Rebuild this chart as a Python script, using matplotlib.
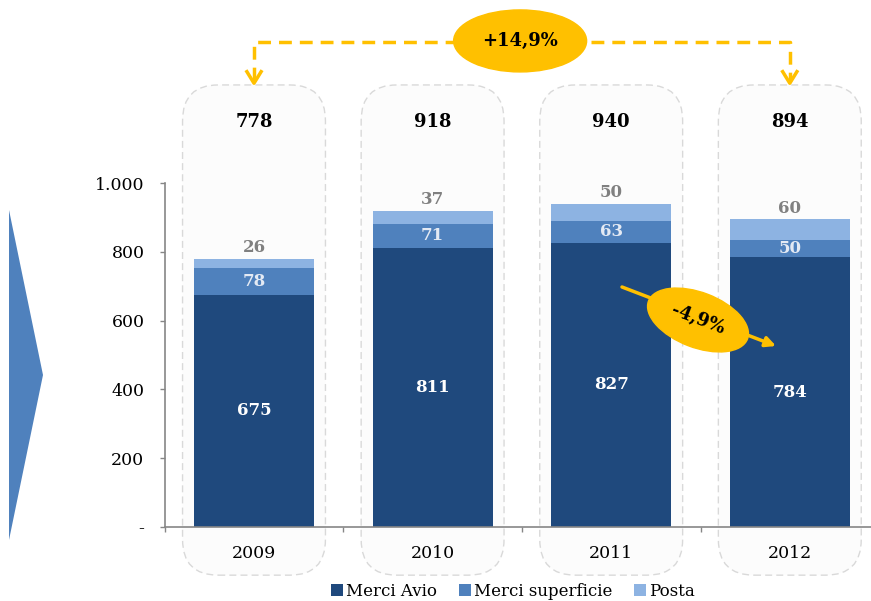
import numpy as np
import matplotlib
matplotlib.use('Agg')
import matplotlib.pyplot as plt
from matplotlib.patches import FancyBboxPatch, Ellipse, Polygon

plt.rcParams['font.family'] = ['DejaVu Serif']

# data
years = ['2009', '2010', '2011', '2012']
merci_avio = [675, 811, 827, 784]
merci_superficie = [78, 71, 63, 50]
posta = [26, 37, 50, 60]
totals = [778, 918, 940, 894]
growth_label = '+14,9%'
drop_label = '-4,9%'

c_avio = '#1f497d'
c_sup = '#4f81bd'
c_posta = '#8db3e2'
yellow = '#ffc000'
grey = '#868686'

W, H = 871, 601
fig = plt.figure(figsize=(W / 100, H / 100), dpi=100)
ax = fig.add_axes([0, 0, 1, 1])

# pixel scale of the chart: 178.6 px per category, 0.344 px per unit
x0_px, step_px = 254, 178.6
y0_px, yscale = 527, 0.344
ax.set_xlim(-x0_px / step_px, (W - x0_px) / step_px)
ax.set_ylim(-(H - y0_px) / yscale, y0_px / yscale)
ax.patch.set_alpha(0)

def px(x, y):
    # pixel (from top-left) -> inches for fig.dpi_scale_trans
    return (x / 100, (H - y) / 100)

inch = fig.dpi_scale_trans

x = np.arange(len(years))
bw = 120 / step_px

# rounded dashed panels behind each year
aspect = (1 / yscale) / (1 / step_px)
for i in x:
    box = FancyBboxPatch((i - 0.4, -140), 0.8, 1425,
                         boxstyle='round,pad=0,rounding_size=0.2',
                         mutation_aspect=aspect, facecolor='#fcfcfc',
                         edgecolor='#d9d9d9', linestyle=(0, (5, 3)), lw=1,
                         zorder=0)
    ax.add_patch(box)

b1 = ax.bar(x, merci_avio, bw, color=c_avio, zorder=2, label='Merci Avio')
bottom2 = np.array(merci_avio)
b2 = ax.bar(x, merci_superficie, bw, bottom=bottom2, color=c_sup, zorder=2,
            label='Merci superficie')
bottom3 = bottom2 + np.array(merci_superficie)
b3 = ax.bar(x, posta, bw, bottom=bottom3, color=c_posta, zorder=2, label='Posta')
tops = bottom3 + np.array(posta)

for i in x:
    ax.text(i, merci_avio[i] / 2, str(merci_avio[i]), ha='center', va='center',
            color='white', fontsize=12, fontweight='bold', zorder=3)
    ax.text(i, bottom2[i] + merci_superficie[i] / 2, str(merci_superficie[i]),
            ha='center', va='center', color='#e4eaf4', fontsize=12,
            fontweight='bold', zorder=3)
    ax.annotate(str(posta[i]), (i, tops[i]), xytext=(0, 8), textcoords='offset points',
                ha='center', va='center', color='#808080', fontsize=12,
                fontweight='bold', zorder=3)
    ax.text(i, 1177, str(totals[i]), ha='center', va='center', color='black',
            fontsize=13, fontweight='bold', zorder=3)

# axes styling
for s in ['top', 'right']:
    ax.spines[s].set_visible(False)
ax.spines['left'].set_position(('data', -0.5))
ax.spines['left'].set_bounds(0, 1000)
ax.spines['bottom'].set_position(('data', 0))
ax.spines['bottom'].set_bounds(-0.5, ax.get_xlim()[1])
for s in ['left', 'bottom']:
    ax.spines[s].set_color(grey)
    ax.spines[s].set_linewidth(1.2)
    ax.spines[s].set_zorder(4)

ax.set_yticks([0, 200, 400, 600, 800, 1000])
ax.set_yticklabels(['-', '200', '400', '600', '800', '1.000'])
ax.tick_params(axis='y', length=3.6, width=1, color=grey, pad=11, labelsize=12.5)
ax.set_xticks(x)
ax.set_xticklabels(years)
ax.set_xticks([-0.5, 0.5, 1.5, 2.5], minor=True)
ax.tick_params(axis='x', which='major', length=0, pad=13, labelsize=12.5)
ax.tick_params(axis='x', which='minor', length=3.6, width=1, color=grey)

# growth annotation over the whole period
dash = (0, (3.7, 2.3))
ax.plot([0, 0, 3, 3], [1300, 1410, 1410, 1300], color=yellow, lw=2.5,
        linestyle=dash, zorder=3, clip_on=False)
hw, hl = 0.045, 38
for xi in [0, 3]:
    ax.plot([xi - hw, xi, xi + hw], [1290 + hl, 1290, 1290 + hl], color=yellow,
            lw=2.5, zorder=3, solid_capstyle='butt')
ax.add_patch(Ellipse((1.49, 1413), 133 / step_px, 62 / yscale, color=yellow, zorder=4))
ax.text(1.49, 1413, growth_label, ha='center', va='center', fontsize=13,
        fontweight='bold', zorder=5)

# decline annotation 2011 -> 2012
ax.annotate('', xy=px(776, 346), xycoords=inch, xytext=px(622, 287), textcoords=inch,
            arrowprops=dict(arrowstyle='-|>,head_length=0.6,head_width=0.3',
                            color=yellow, lw=2.5, shrinkA=0, shrinkB=0), zorder=5)
ax.add_patch(Ellipse(px(698, 320), 1.06, 0.55, angle=-21, color=yellow,
                     transform=inch, zorder=6))
ax.text(*px(698, 320), drop_label, transform=inch, ha='center', va='center',
        rotation=-21, fontsize=13, fontweight='bold', zorder=7)

# chevron on the left
fig.patches.append(Polygon([px(9, 210), px(43, 375), px(9, 540)], closed=True,
                           transform=inch, facecolor=c_sup, edgecolor='none'))

fig.legend(handles=[b1, b2, b3], loc='center', bbox_to_anchor=(513 / W, 10 / H),
           ncol=3, frameon=False, fontsize=12, handlelength=0.7, handleheight=0.7,
           handletextpad=0.2, columnspacing=1.3, borderaxespad=0)

fig.savefig('out.png', dpi=100)
